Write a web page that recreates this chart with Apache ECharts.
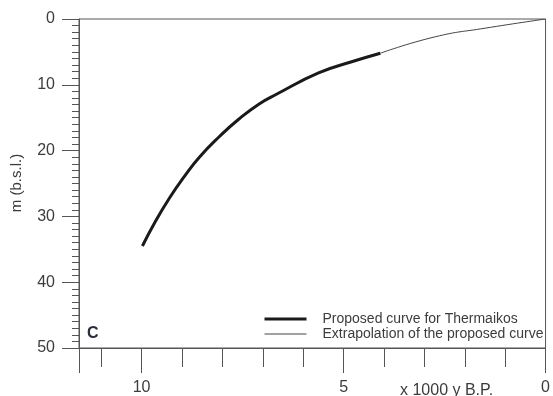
<!DOCTYPE html>
<html>
<head>
<meta charset="utf-8">
<script src="https://cdn.jsdelivr.net/npm/echarts@6/dist/echarts.min.js"></script>
<style>html,body{margin:0;padding:0;background:#fff}#c{width:553px;height:396px}</style>
</head>
<body>
<div id="c"></div>
<script>
// Data (x = thousand years B.P., y = metres below sea level)
const proposedX = [9.98, 9.68, 9.31, 8.94, 8.57, 8.08, 7.59, 7.09, 6.65, 5.62, 4.80, 4.09];
const proposedY = [34.5, 31.0, 27.2, 23.9, 21.0, 17.9, 15.2, 12.9, 11.4, 8.2, 6.5, 5.2];
const extrapX = [4.09, 2.73, 1.50, 0];
const extrapY = [5.2, 2.7, 1.4, 0];
const xTickLabels = [10, 5, 0];
const yTickLabels = [0, 10, 20, 30, 40, 50];
const seriesNames = ['Proposed curve for Thermaikos', 'Extrapolation of the proposed curve'];

const pairs = (xs, ys) => xs.map((x, i) => [x, ys[i]]);
const txt = '#3c3c3c';
const axc = '#555';
const font = 'Liberation Sans, Arial, sans-serif';

const chart = echarts.init(document.getElementById('c'));
chart.setOption({
  animation: false,
  grid: { left: 79, right: 5, top: 19, bottom: 48, show: true, borderColor: axc, borderWidth: 1 },
  xAxis: [
    { type: 'value', inverse: true, min: 0, max: 11.55, interval: 1, position: 'bottom',
      axisLine: { show: true, onZero: false, lineStyle: { color: axc } },
      axisTick: { show: true, length: 19, lineStyle: { color: axc } },
      axisLabel: { show: false }, splitLine: { show: false } },
    { type: 'value', inverse: true, min: 0, max: 11.55, interval: 5, position: 'bottom',
      axisLine: { show: false, onZero: false },
      axisTick: { show: true, length: 25, lineStyle: { color: axc } },
      axisLabel: { show: true, margin: 32, fontSize: 16, color: txt, fontFamily: font,
        formatter: v => xTickLabels.includes(v) ? String(v) : '' },
      splitLine: { show: false } }
  ],
  yAxis: {
    type: 'value', inverse: true, min: 0, max: 50, interval: 10, position: 'left',
    axisLine: { show: true, onZero: false, lineStyle: { color: axc } },
    axisTick: { show: true, length: 17, lineStyle: { color: axc } },
    minorTick: { show: true, splitNumber: 10, length: 7, lineStyle: { color: axc } },
    axisLabel: { margin: 24, fontSize: 16, color: txt, fontFamily: font,
      formatter: v => yTickLabels.includes(v) ? String(v) : '' },
    splitLine: { show: false }
  },
  legend: {
    orient: 'vertical', left: 258, top: 307, itemWidth: 42, itemHeight: 12, itemGap: 1,
    itemStyle: { opacity: 0 },
    data: [
      { name: seriesNames[0], lineStyle: { width: 3, color: '#1a1a1a' } },
      { name: seriesNames[1], lineStyle: { width: 1, color: '#444' } }
    ],
    textStyle: { fontSize: 14, color: txt, fontFamily: font, padding: [0, 0, 0, 11] }
  },
  series: [
    { name: seriesNames[0], type: 'line', smooth: true, symbol: 'none', xAxisIndex: 0,
      data: pairs(proposedX, proposedY), lineStyle: { color: '#1a1a1a', width: 3 }, itemStyle: { color: '#1a1a1a' }, z: 3 },
    { name: seriesNames[1], type: 'line', smooth: true, symbol: 'none', xAxisIndex: 0,
      data: pairs(extrapX, extrapY), lineStyle: { color: '#444', width: 1 }, itemStyle: { color: '#444' }, z: 2 }
  ],
  graphic: [
    { type: 'text', left: 87, top: 326, style: { text: 'C', font: 'bold 16px ' + font, fill: '#2b2f3a' } },
    { type: 'text', x: 17, y: 183, rotation: Math.PI / 2, style: { text: 'm (b.s.l.)', font: '15px ' + font, fill: txt, align: 'center', verticalAlign: 'middle' } },
    { type: 'text', left: 400, top: 383, style: { text: 'x 1000 y B.P.', font: '16px ' + font, fill: txt } }
  ]
});
</script>
</body>
</html>
